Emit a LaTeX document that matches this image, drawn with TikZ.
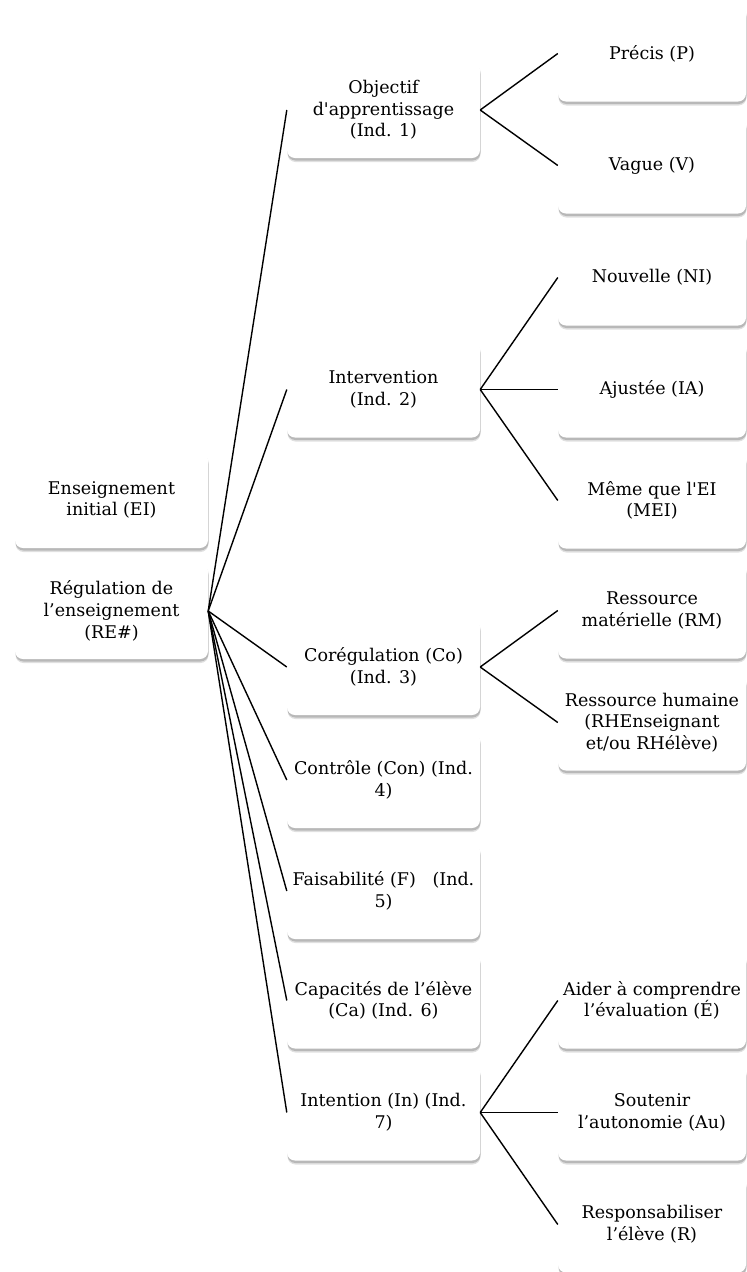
\documentclass[tikz,border=0pt]{standalone}
\usepackage{fontspec}
\setmainfont{DejaVu Serif}
\usepackage{tikz}
\usetikzlibrary{shadows}

\begin{document}
\begin{tikzpicture}[x=1pt, y=-1pt,
    caja/.style={rectangle, rounded corners=8pt, fill=white, align=center,
      minimum width=193pt, minimum height=96pt, inner sep=2pt,
      font=\fontsize{17.5}{21.7}\selectfont,
      drop shadow={shadow xshift=0.5pt, shadow yshift=-4pt, opacity=0.12, fill=black},
      drop shadow={shadow xshift=0.5pt, shadow yshift=-2.5pt, opacity=0.18, fill=black}},
    hoja/.style={caja, minimum width=188pt},
    rama/.style={line width=1.4pt, black}]
    \useasboundingbox (0,0) rectangle (747,1272);

    % Colonne de gauche
    \node[caja] (ei) at (111.5,500) {Enseignement\\initial (EI)};
    \node[caja] (re) at (111.5,611) {Régulation de\\l’enseignement\\(RE\#)};

    % Indicateurs
    \node[caja] (obj) at (383.5,110) {Objectif\\d\textquotesingle apprentissage\\(Ind. 1)};
    \node[caja] (int) at (383.5,389.5) {Intervention\\(Ind. 2)};
    \node[caja] (co)  at (383.5,667) {Corégulation (Co)\\(Ind. 3)};
    \node[caja] (con) at (383.5,780) {Contrôle (Con) (Ind.\\4)};
    \node[caja] (f)   at (383.5,891) {Faisabilité (F)\ \ \ (Ind.\\5)};
    \node[caja] (ca)  at (383.5,1000.5) {Capacités de l’élève\\(Ca) (Ind. 6)};
    \node[caja] (in)  at (383.5,1112.5) {Intention (In) (Ind.\\7)};

    % Modalités
    \node[hoja] (p)   at (652,53.5) {Précis (P)};
    \node[hoja] (v)   at (652,165.5) {Vague (V)};
    \node[hoja] (ni)  at (652,277.5) {Nouvelle (NI)};
    \node[hoja] (ia)  at (652,389.5) {Ajustée (IA)};
    \node[hoja] (mei) at (652,500.5) {Même que l\textquotesingle EI\\(MEI)};
    \node[hoja] (rm)  at (652,610.5) {Ressource\\matérielle (RM)};
    \node[hoja] (rh)  at (652,722.5) {Ressource humaine\\(RHEnseignant\\et/ou RHélève)};
    \node[hoja] (e)   at (652,1000.5) {Aider à comprendre\\l’évaluation (É)};
    \node[hoja] (au)  at (652,1112.5) {Soutenir\\l’autonomie (Au)};
    \node[hoja] (r)   at (652,1224.5) {Responsabiliser\\l’élève (R)};

    % Branches
    \foreach \b in {obj,int,co,con,f,ca,in}
      \draw[rama] (re.east) -- (\b.west);
    \foreach \a/\b in {obj/p, obj/v, int/ni, int/ia, int/mei, co/rm, co/rh, in/e, in/au, in/r}
      \draw[rama] (\a.east) -- (\b.west);
\end{tikzpicture}
\end{document}
